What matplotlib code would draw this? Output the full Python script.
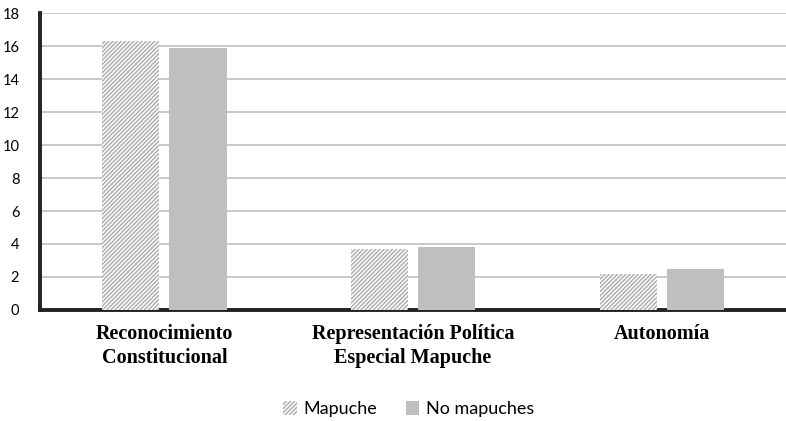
import numpy as np
import matplotlib.pyplot as plt

plt.rcParams['hatch.linewidth'] = 1.1
plt.rcParams['font.family'] = ['Lato', 'DejaVu Sans']

categories = ['Reconocimiento\nConstitucional',
              'Representación Política\nEspecial Mapuche',
              'Autonomía']
mapuche = [16.3, 3.7, 2.2]
no_mapuches = [15.9, 3.8, 2.5]

fig = plt.figure(figsize=(7.86, 4.21), dpi=100)
ax = fig.add_axes([0.051, 0.2637, 0.949, 0.7053])

X = np.arange(len(categories))
width = 0.23
gap = 0.04
ax.bar(X - (width + gap) / 2, mapuche, width, color='white', edgecolor='#b0b0b0',
       hatch='////////', linewidth=0, label='Mapuche', zorder=3)
ax.bar(X + (width + gap) / 2, no_mapuches, width, color='#bfbfbf',
       linewidth=0, label='No mapuches', zorder=3)

ax.set_xlim(-0.5, 2.5)
ax.set_ylim(0, 18)
ax.set_yticks(range(0, 19, 2))
ax.yaxis.grid(True, color='#c0c0c0', linewidth=1.2, zorder=0)
ax.tick_params(axis='y', length=0, labelsize=10.5, pad=15)
ax.tick_params(axis='x', length=0, pad=10)
ax.set_xticks(X)
ax.set_xticklabels(categories, fontfamily='Liberation Serif', fontweight='bold',
                   fontsize=14.5, linespacing=1.25)

for side in ['top', 'right']:
    ax.spines[side].set_visible(False)
for side in ['left', 'bottom']:
    ax.spines[side].set_color('#222222')
    ax.spines[side].set_linewidth(2.8)

fig.legend(loc='lower center', bbox_to_anchor=(0.52, -0.03), ncol=2, frameon=False,
           prop={'size': 13}, handlelength=0.75, handleheight=0.75,
           handletextpad=0.35, columnspacing=1.6)

fig.savefig('out.png', dpi=100)
